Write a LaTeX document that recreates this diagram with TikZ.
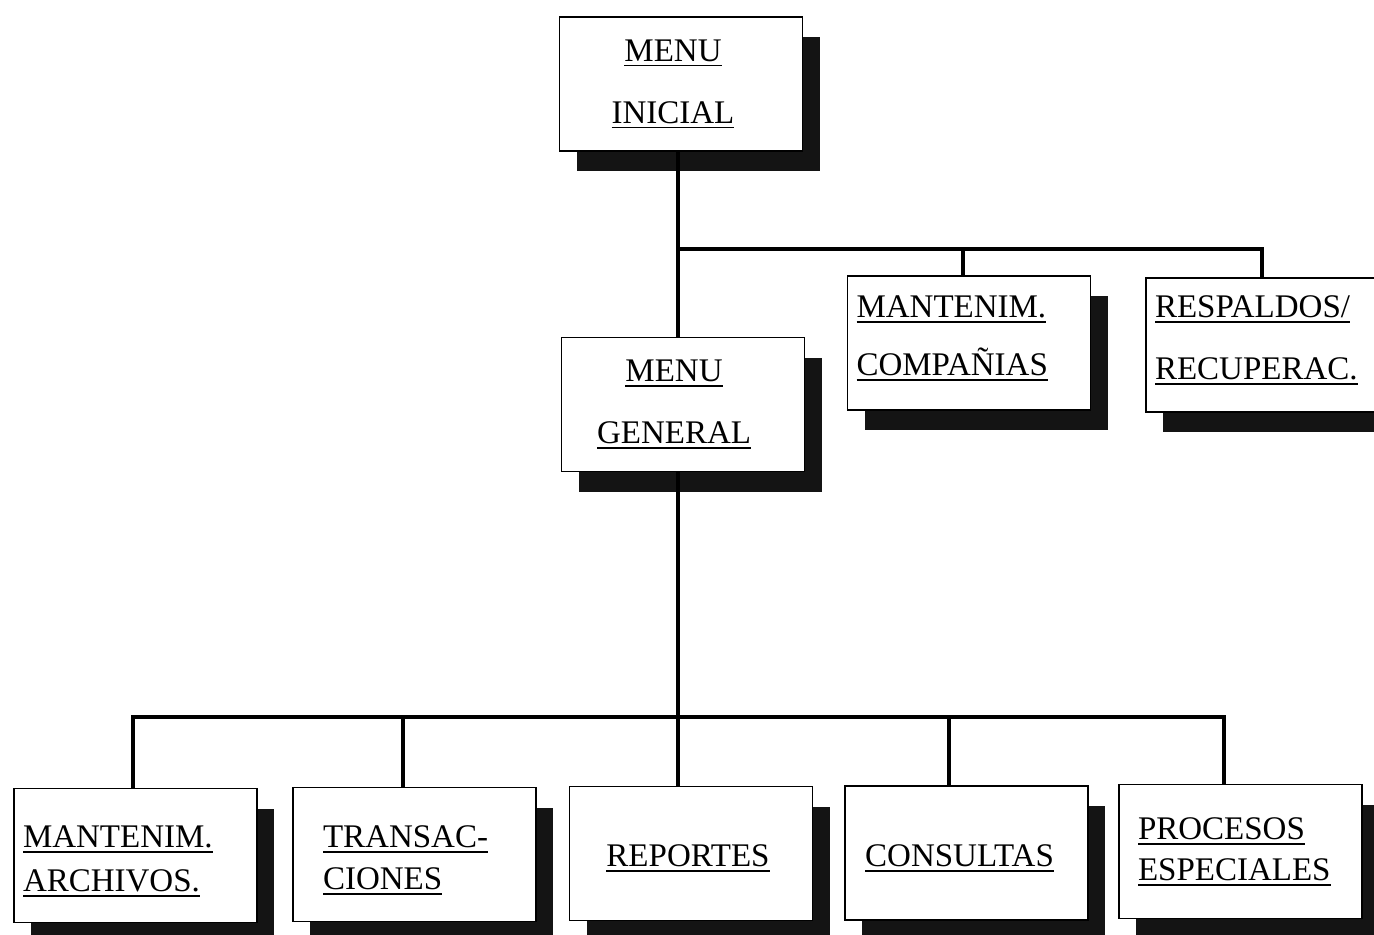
\documentclass[tikz,border=0pt]{standalone}
\usepackage{fontspec}
\setmainfont{Liberation Serif}
\usetikzlibrary{shadows}
\newcommand\ulx[1]{\leavevmode\setbox0=\hbox{#1}\rlap{\rule[-2.6pt]{\wd0}{0.9pt}}\box0}
\newcommand\tstrut[1]{\rule{0pt}{#1}}
\newcommand\bstrut[1]{\rule[-#1]{0pt}{#1}}
\begin{document}
\begin{tikzpicture}[x=0.5pt,y=-0.5pt,
  box/.style={draw=black, line width=0.8pt, fill=white,
    minimum width=121.5pt, minimum height=67pt, inner ysep=0pt,
    font=\fontsize{16.5}{31}\selectfont,
    drop shadow={shadow xshift=8.5pt, shadow yshift=-10pt, fill=black!92, opacity=1, draw=none}},
  lbox/.style={box, align=left},
  conn/.style={line width=1.6pt, line join=miter}]
\useasboundingbox (0,0) rectangle (1374,935);
\clip (0,0) rectangle (1374,935);
\fill[white] (0,0) rectangle (1374,935);

% boxes
\node[box, align=center] (mi) at (681,84) {\ulx{MENU}\kern8pt\\\ulx{INICIAL}\kern8pt};
\node[box, align=center] (mg) at (683,404.5) {\ulx{MENU}\kern9pt\\\ulx{GENERAL}\kern9pt};
\node[lbox, text width=112.5pt, inner xsep=4.5pt, font=\fontsize{16.5}{29}\selectfont] (mc) at (969,343) {\ulx{MANTENIM.}\\\ulx{COMPAÑIAS}\bstrut{7pt}};
\node[lbox, text width=112.5pt, inner xsep=4.5pt] (rr) at (1267.5,345) {\ulx{RESPALDOS/}\\\ulx{RECUPERAC.}\bstrut{7pt}};

\node[lbox, text width=112.5pt, inner xsep=4.5pt, font=\fontsize{16.5}{22}\selectfont] (b1) at (135.5,855.5) {\tstrut{17pt}\ulx{MANTENIM.}\\\ulx{ARCHIVOS.}};
\node[lbox, text width=91.5pt, inner xsep=15pt, font=\fontsize{16.5}{21}\selectfont] (b2) at (414.5,854.5) {\tstrut{17pt}\ulx{TRANSAC-}\\\ulx{CIONES}};
\node[box] (b3) at (691,853.5) {\tstrut{16pt}\ulx{REPORTES}\kern3pt};
\node[box] (b4) at (966.5,853) {\tstrut{16pt}\ulx{CONSULTAS}\kern7pt};
\node[lbox, text width=102.5pt, inner xsep=9.5pt, font=\fontsize{16.5}{20.5}\selectfont] (b5) at (1240.5,851.5) {\ulx{PROCESOS}\\\ulx{ESPECIALES}};

% junction coordinates
\coordinate (j1) at (678,249);
\coordinate (d1) at (963,249);
\coordinate (d2) at (1262,249);
\coordinate (j2) at (678,717);
\coordinate (e1) at (133,717);
\coordinate (e2) at (403,717);
\coordinate (e4) at (949,717);
\coordinate (e5) at (1224,717);

% connectors
\draw[conn] (mi.south -| j1) -- (mg.north -| j1);
\draw[conn] (j1) -- (d2) -- (d2 |- rr.north);
\draw[conn] (d1) -- (d1 |- mc.north);
\draw[conn] (mg.south -| j2) -- (j2 |- b3.north);
\draw[conn] (e1 |- b1.north) -- (e1) -- (e5) -- (e5 |- b5.north);
\draw[conn] (e2) -- (e2 |- b2.north);
\draw[conn] (e4) -- (e4 |- b4.north);
\end{tikzpicture}
\end{document}
